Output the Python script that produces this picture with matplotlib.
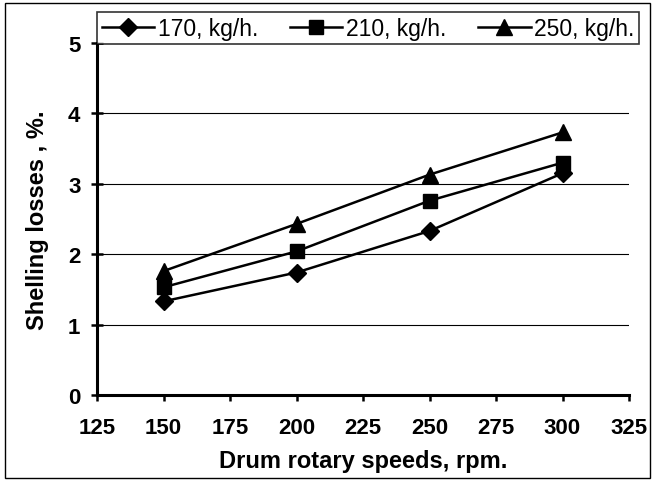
import matplotlib
matplotlib.use("Agg")
import matplotlib.pyplot as plt
from matplotlib.patches import Rectangle

plt.rcParams['font.family'] = ['Liberation Sans', 'DejaVu Sans']

speeds = [150, 200, 250, 300]
loss_170 = [1.33, 1.74, 2.33, 3.15]
loss_210 = [1.53, 2.04, 2.76, 3.30]
loss_250 = [1.76, 2.43, 3.13, 3.73]
labels = ["170, kg/h.", "210, kg/h.", "250, kg/h."]
x_ticks = [125, 150, 175, 200, 225, 250, 275, 300, 325]
y_ticks = [0, 1, 2, 3, 4, 5]

W, H = 657, 481
fig = plt.figure(figsize=(W / 100, H / 100), dpi=100)
ax = fig.add_axes([97 / W, 1 - 396 / H, (629 - 97) / W, (396 - 44) / H])

ax.plot(speeds, loss_170, color='black', lw=1.8, marker='D', ms=9.5, label=labels[0])
ax.plot(speeds, loss_210, color='black', lw=1.8, marker='s', ms=10.5, label=labels[1])
ax.plot(speeds, loss_250, color='black', lw=1.8, marker='^', ms=12, label=labels[2])

ax.set_xlim(125, 325)
ax.set_ylim(0, 5)
ax.set_xticks(x_ticks)
ax.set_yticks(y_ticks)
for y in y_ticks[1:-1]:
    ax.axhline(y, color='black', lw=0.8, zorder=0)

for s in ['top', 'right']:
    ax.spines[s].set_visible(False)
ax.spines['left'].set_linewidth(2.2)
ax.spines['bottom'].set_linewidth(2.2)
ax.tick_params(axis='x', direction='out', length=4, width=1.8, pad=12, labelsize=16)
ax.tick_params(axis='y', direction='inout', length=8, width=1.8, pad=8, labelsize=16)
for lab in ax.get_xticklabels() + ax.get_yticklabels():
    lab.set_fontweight('bold')

ax.set_xlabel("Drum rotary speeds, rpm.", fontsize=17, fontweight='bold', labelpad=8)
ax.set_ylabel("Shelling losses , %.", fontsize=17, fontweight='bold', labelpad=14)

leg = ax.legend(loc='upper left', bbox_to_anchor=(97 / W, 1 - 44 / H, (639 - 97) / W, 31 / H),
                bbox_transform=fig.transFigure, mode='expand', ncol=3, fontsize=16.5,
                frameon=True, fancybox=False, edgecolor='black', handlelength=2.3,
                handletextpad=0.15, columnspacing=0.5, borderaxespad=0, borderpad=0.2)
leg.get_frame().set_linewidth(1.2)

fig.patches.append(Rectangle((5 / W, 2 / H), (650 - 5) / W, (477 - 2) / H,
                             transform=fig.transFigure, fill=False, edgecolor='black', lw=1.0))

fig.savefig("out.png", dpi=100)
